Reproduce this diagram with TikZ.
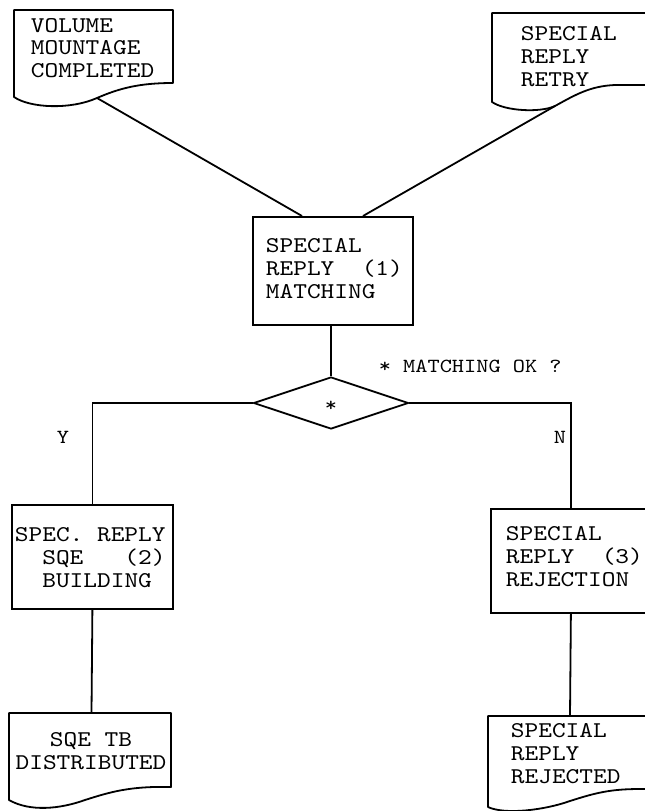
\documentclass[tikz,border=0pt]{standalone}
\usepackage{fontspec}
\usetikzlibrary{shapes.geometric}
\newfontfamily\twfont{lmmono10-regular}[Extension=.otf, FakeStretch=1.16]
\begin{document}
\begin{tikzpicture}[x=1pt,y=-1pt,line width=1.8pt,
  txt/.style={font=\twfont\fontsize{22.5}{22.8}\selectfont, align=left, inner sep=0pt},
  lbl/.style={font=\twfont\fontsize{20}{21}\selectfont, inner sep=0pt},
  proc/.style={draw, rectangle, inner sep=0pt, anchor=north west},
  doc/.style={draw, line join=round}]
\useasboundingbox (0,0) rectangle (645,811);
\clip (0,0) rectangle (645,811);
% documents
\draw[doc] (14,97) -- (14,10) -- (173,10) -- (173,83)
  .. controls (140,83) and (120,88) .. (97,98)
  .. controls (70,110) and (30,108) .. (14,97) -- cycle;
\coordinate (vmtip) at (97,98);
\node[txt, anchor=west] (vmtxt) at (30,48) {VOLUME\\MOUNTAGE\\COMPLETED};

\draw[doc] (492,102) -- (492,13) -- (655,13) -- (655,85) -- (615,85)
  .. controls (590,86) and (575,95) .. (555,106)
  .. controls (540,113) and (505,111) .. (492,102) -- cycle;
\coordinate (srtip) at (555,106);
\node[txt, anchor=west] (srtxt) at (520,56.5) {SPECIAL\\REPLY\\RETRY};

\draw[doc] (9,800) -- (9,713) -- (171,713) -- (171,787)
  .. controls (130,786) and (110,792) .. (85,800)
  .. controls (60,809) and (30,812) .. (9,800) -- cycle;
\coordinate (sqetop) at (91.5,713);
\node[txt, align=center] (sqetxt) at (91,751.5) {SQE TB\\DISTRIBUTED};

\draw[doc] (488,807) -- (488,716) -- (655,716) -- (655,789) -- (640,789)
  .. controls (610,789) and (595,793) .. (570,801)
  .. controls (545,810) and (505,815) .. (488,807) -- cycle;
\coordinate (rejtop) at (570,716);
\node[txt, anchor=west] (rejtxt) at (510,753.5) {SPECIAL\\REPLY\\REJECTED};

% process boxes
\node[proc, minimum width=160pt, minimum height=108pt] (match) at (252,216) {};
\node[txt, anchor=west] (matchtxt) at (265,268.5) {SPECIAL\\REPLY~~(1)\\MATCHING};
\coordinate (matchL) at (302,216);
\coordinate (matchR) at (363,216);

\node[proc, minimum width=161pt, minimum height=104pt] (sqe) at (11,504) {};
\node[txt, anchor=west] (sqetx) at (14,557.5) {SPEC.~REPLY\\~~SQE~~~(2)\\~~BUILDING};

\node[proc, minimum width=160pt, minimum height=104pt] (rej) at (490,508) {};
\node[txt, anchor=west] (rejtx) at (505,556.5) {SPECIAL\\REPLY~~(3)\\REJECTION};

% decision
\node[draw, diamond, minimum width=155pt, minimum height=52pt, inner sep=0pt] (dec) at (331,403) {};
\node[lbl] (star) at (331,406) {*};
\node[lbl, anchor=west] (q) at (378,366) {* MATCHING OK ?};
\node[lbl] (y) at (63,437) {Y};
\node[lbl] (n) at (560,437) {N};

% connectors
\draw (vmtip) -- (matchL);
\draw (srtip) -- (matchR);
\draw (match.south -| dec.north) -- (dec.north);
\draw (dec.west) -| (sqe.north);
\draw (dec.east) -| (rej.north);
\draw (sqe.south) -- (sqetop);
\draw (rej.south) -- (rejtop);
\end{tikzpicture}
\end{document}
